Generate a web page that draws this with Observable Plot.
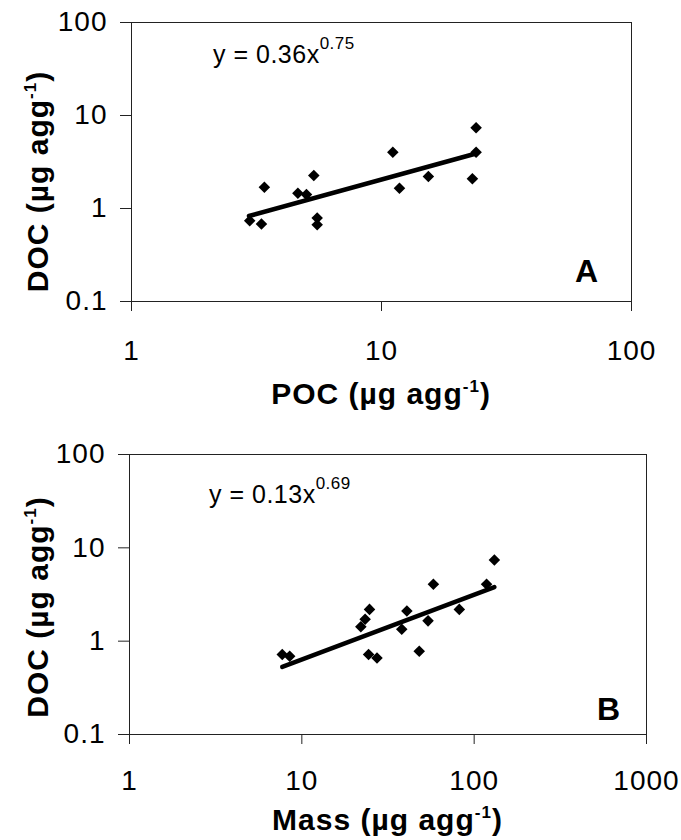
<!DOCTYPE html>
<html><head><meta charset="utf-8">
<script src="https://cdn.jsdelivr.net/npm/d3@7"></script>
<script src="https://cdn.jsdelivr.net/npm/@observablehq/plot@0.6"></script>
<style>
body{margin:0;background:#fff;}
#chart{position:relative;width:681px;height:840px;background:#fff;font-family:"Liberation Sans",Arial,sans-serif;color:#000;}
#chart svg{position:absolute;left:0;overflow:visible;}
#chart svg g[aria-label$="tick label"] text{letter-spacing:1px;}
</style></head><body><div id="chart"></div>
<script>
// Panel A: POC vs DOC
const pocA = [2.97, 3.31, 3.40, 4.63, 5.01, 5.36, 5.53, 5.53, 11.1, 11.8, 15.4, 23.1, 23.9, 23.9];
const docA = [0.74, 0.68, 1.69, 1.46, 1.41, 2.26, 0.79, 0.67, 4.03, 1.65, 2.21, 2.09, 4.03, 7.4];
const fitA_x = [2.95, 23.9];
const fitA_y = [0.83, 3.9];
// Panel B: Mass vs DOC
const massB = [7.7, 8.5, 22, 23.3, 24.7, 24.4, 27.3, 38, 40.7, 48, 54, 58, 82, 118, 131];
const docB  = [0.72, 0.69, 1.43, 1.72, 2.19, 0.72, 0.66, 1.34, 2.1, 0.78, 1.65, 4.07, 2.19, 4.07, 7.4];
const fitB_x = [7.7, 131];
const fitB_y = [0.53, 3.8];
// ticks
const yTicks = [0.1, 1, 10, 100];
const xTicksA = [1, 10, 100];
const xTicksB = [1, 10, 100, 1000];
// texts
const eqA = ["y = 0.36x", "0.75"];
const eqB = ["y = 0.13x", "0.69"];
const yTitle = ["DOC (\u00b5g agg", "-1", ")"];
const xTitleA = ["POC (\u00b5g agg", "-1", ")"];
const xTitleB = ["Mass (\u00b5g agg", "-1", ")"];
const panelLetters = ["A", "B"];

const fmt = d3.format("~g");
const FONT = "Liberation Sans, Arial, sans-serif";

function panel(cfg) {
  const pts = cfg.xs.map((x, i) => ({x, y: cfg.ys[i]}));
  const fit = cfg.fx.map((x, i) => ({x, y: cfg.fy[i]}));
  const svg = Plot.plot({
    width: 681, height: cfg.height,
    marginTop: cfg.mt, marginBottom: cfg.mb, marginLeft: cfg.ml, marginRight: cfg.mr,
    style: {fontFamily: FONT, background: "transparent", color: "#000", overflow: "visible"},
    x: {type: "log", domain: cfg.xDomain, ticks: cfg.xTicks, tickFormat: fmt},
    y: {type: "log", domain: [0.1, 100], ticks: yTicks, tickFormat: fmt},
    marks: [
      Plot.frame({stroke: "#222", strokeWidth: 1}),
      Plot.axisX({ticks: cfg.xTicks, tickFormat: fmt, tickSize: 10, tickPadding: cfg.xPad, fontSize: 28, label: null, stroke: "#222"}),
      Plot.axisY({ticks: yTicks, tickFormat: fmt, tickSize: 11, tickPadding: 13, fontSize: 28, label: null, stroke: "#222"}),
      Plot.line(fit, {x: "x", y: "y", stroke: "#000", strokeWidth: 4.5}),
      Plot.dot(pts, {x: "x", y: "y", symbol: "diamond2", r: 5.2, fill: "#000", stroke: "none"})
    ]
  });
  svg.style.top = cfg.top + "px";
  const s = d3.select(svg);
  const fl = cfg.ml, fr = 681 - cfg.mr, ft = cfg.mt, fb = cfg.height - cfg.mb;
  // equation
  const eq = s.append("text").attr("x", fl + cfg.eqDx).attr("y", ft + cfg.eqDy)
    .attr("text-anchor", "start")
    .attr("font-family", FONT).attr("font-size", 25).attr("letter-spacing", "0.5px").attr("fill", "#000");
  eq.append("tspan").text(cfg.eq[0]);
  eq.append("tspan").attr("dy", -14).attr("font-size", 17).text(cfg.eq[1]);
  // panel letter
  s.append("text").attr("x", fr - cfg.letDx).attr("y", fb - cfg.letDy)
    .attr("text-anchor", "middle").attr("font-family", FONT).attr("font-weight", "bold")
    .attr("font-size", 32).attr("fill", "#000").text(cfg.letter);
  // x title
  const xt = s.append("text").attr("x", (fl + fr) / 2).attr("y", fb + cfg.xtDy)
    .attr("text-anchor", "middle").attr("font-family", FONT).attr("font-weight", "bold")
    .attr("font-size", 30).attr("letter-spacing", "1px").attr("fill", "#000");
  xt.append("tspan").text(cfg.xTitle[0]);
  xt.append("tspan").attr("dy", -12).attr("font-size", 17).text(cfg.xTitle[1]);
  xt.append("tspan").attr("dy", 12).text(cfg.xTitle[2]);
  // y title
  const yt = s.append("text").attr("transform", `translate(48,${(ft + fb) / 2 + cfg.ytOff}) rotate(-90)`)
    .attr("text-anchor", "middle").attr("font-family", FONT).attr("font-weight", "bold")
    .attr("font-size", 30).attr("letter-spacing", "1px").attr("fill", "#000");
  yt.append("tspan").text(yTitle[0]);
  yt.append("tspan").attr("dy", -12).attr("font-size", 17).text(yTitle[1]);
  yt.append("tspan").attr("dy", 12).text(yTitle[2]);
  return svg;
}

const chart = document.getElementById("chart");
chart.append(panel({
  xs: pocA, ys: docA, fx: fitA_x, fy: fitA_y, xDomain: [1, 100], xTicks: xTicksA, xPad: 29,
  top: 0, height: 430, mt: 22, mb: 129, ml: 131, mr: 50,
  eq: eqA, eqDx: 82, eqDy: 41, letter: panelLetters[0], letDx: 44.5, letDy: 19,
  xTitle: xTitleA, xtDy: 103, ytOff: 20
}));
chart.append(panel({
  xs: massB, ys: docB, fx: fitB_x, fy: fitB_y, xDomain: [1, 1000], xTicks: xTicksB, xPad: 26,
  top: 420, height: 420, mt: 34, mb: 106, ml: 129, mr: 35,
  eq: eqB, eqDx: 80, eqDy: 49, letter: panelLetters[1], letDx: 37.5, letDy: 14,
  xTitle: xTitleB, xtDy: 96, ytOff: 13
}));
</script></body></html>
